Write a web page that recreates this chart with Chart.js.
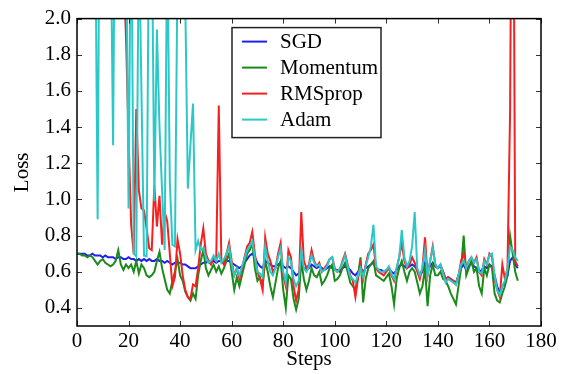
<!DOCTYPE html>
<html>
<head>
<meta charset="utf-8">
<title>Loss vs Steps</title>
<script src="https://cdn.jsdelivr.net/npm/chart.js@4.4.1/dist/chart.umd.min.js"></script>
<style>
    html, body { margin: 0; padding: 0; background: #fff; }
    #wrap { width: 566px; height: 374px; }
</style>
</head>
<body>
<div id="wrap"><canvas id="lossChart" width="566" height="374"></canvas></div>
<script>
// Loss curves, one value per step (0..171)
const sgd = [
    0.70,0.70,0.70,0.70,0.69,0.69,0.70,0.69,0.69,0.69,
    0.68,0.69,0.68,0.68,0.68,0.67,0.68,0.68,0.67,0.67,
    0.68,0.67,0.67,0.66,0.67,0.66,0.67,0.66,0.67,0.66,
    0.66,0.67,0.66,0.66,0.65,0.66,0.65,0.64,0.65,0.65,
    0.65,0.64,0.64,0.63,0.62,0.62,0.62,
    0.63,0.64,0.65,0.65,0.66,0.65,0.66,0.65,0.66,0.66,
    0.65,0.66,0.66,0.65,0.64,0.63,0.62,0.63,0.65,0.67,
    0.69,0.70,0.68,0.65,0.63,0.62,0.66,0.65,0.64,0.63,
    0.63,0.64,0.65,0.63,0.62,0.63,0.62,0.60,0.58,0.59,
    0.63,0.62,0.61,0.62,0.64,0.63,0.62,0.63,0.62,0.61,
    0.62,0.63,0.62,0.61,0.61,0.60,0.62,0.63,0.62,0.61,
    0.59,0.58,0.60,0.62,0.60,0.62,0.63,0.64,0.65,0.62,
    0.61,0.61,0.60,0.61,0.62,0.60,0.59,0.61,0.63,0.64,
    0.63,0.62,0.63,0.64,0.63,0.61,0.58,0.60,0.65,0.61,
    0.63,0.65,0.63,0.62,0.63,0.60,0.56,0.57,0.56,0.55,
    0.54,0.58,0.62,0.64,0.61,0.63,0.65,0.63,0.62,0.60,
    0.61,0.63,0.62,0.64,0.63,0.58,0.52,0.48,0.52,0.54,
    0.58,0.66,0.68,0.64,0.62
];
const momentum = [
    0.70,0.70,0.69,0.69,0.68,0.69,0.68,0.66,0.64,0.66,
    0.67,0.65,0.64,0.63,0.64,0.66,0.72,0.64,0.61,0.64,
    0.62,0.64,0.60,0.66,0.59,0.64,0.62,0.58,0.57,0.58,
    0.60,0.66,0.71,0.62,0.56,0.50,0.48,0.55,0.60,0.67,
    0.58,0.55,0.49,0.46,0.44,0.48,0.45,
    0.58,0.66,0.72,0.62,0.58,0.61,0.64,0.60,0.63,0.59,
    0.62,0.66,0.70,0.60,0.50,0.57,0.52,0.58,0.64,0.70,
    0.72,0.76,0.62,0.55,0.57,0.52,0.66,0.60,0.52,0.46,
    0.54,0.62,0.66,0.50,0.40,0.58,0.56,0.45,0.39,0.45,
    0.66,0.56,0.50,0.55,0.62,0.58,0.57,0.60,0.53,0.55,
    0.58,0.62,0.64,0.55,0.56,0.58,0.62,0.65,0.60,0.54,
    0.52,0.50,0.58,0.68,0.43,0.56,0.62,0.64,0.66,0.58,
    0.57,0.56,0.55,0.57,0.59,0.52,0.42,0.56,0.62,0.66,
    0.60,0.55,0.60,0.62,0.60,0.54,0.48,0.52,0.62,0.41,
    0.58,0.64,0.58,0.58,0.60,0.56,0.55,0.52,0.48,0.45,
    0.42,0.52,0.62,0.80,0.58,0.62,0.66,0.60,0.62,0.52,
    0.48,0.62,0.58,0.64,0.62,0.48,0.44,0.43,0.48,0.52,
    0.58,0.80,0.70,0.60,0.55
];
const rmsprop = [
    3.6,3.2,3.9,3.4,3.0,3.5,3.1,2.8,3.3,2.9,
    3.2,2.7,3.0,2.6,2.9,2.5,2.8,2.4,2.3,
    1.90,1.35,0.86,0.70,1.50,1.05,0.95,0.94,0.84,0.73,
    0.72,1.08,0.85,1.02,0.75,0.93,0.88,0.70,0.52,0.57,
    0.78,0.70,0.58,0.50,0.46,0.45,0.53,0.52,
    0.62,0.75,0.84,0.70,0.66,0.64,0.68,0.66,1.52,0.66,
    0.64,0.70,0.76,0.66,0.58,0.62,0.56,0.62,0.68,0.74,
    0.76,0.82,0.70,0.60,0.56,0.50,0.79,0.70,0.66,0.60,
    0.62,0.70,0.76,0.58,0.52,0.72,0.68,0.52,0.44,0.50,
    0.93,0.66,0.62,0.64,0.72,0.66,0.63,0.65,0.60,0.62,
    0.64,0.67,0.68,0.62,0.60,0.61,0.66,0.70,0.64,0.58,
    0.55,0.46,0.56,0.64,0.56,0.64,0.70,0.72,0.75,0.62,
    0.60,0.59,0.58,0.60,0.62,0.58,0.55,0.62,0.68,0.76,
    0.66,0.62,0.64,0.68,0.65,0.60,0.56,0.62,0.79,0.58,
    0.66,0.74,0.64,0.62,0.64,0.60,0.56,0.57,0.56,0.55,
    0.53,0.58,0.66,0.70,0.62,0.66,0.68,0.65,0.68,0.60,
    0.58,0.67,0.64,0.70,0.68,0.56,0.50,0.46,0.64,0.56,
    0.62,1.48,3.80,0.66,0.63
];
const adam = [
    3.5,4.1,3.2,3.8,2.9,3.6,3.1,2.7,0.89,3.4,
    2.9,3.7,3.0,2.6,1.30,3.3,2.8,3.5,2.9,2.6,
    0.95,2.8,0.70,0.685,2.5,1.6,0.69,0.685,2.7,2.6,
    0.99,1.94,1.40,1.05,0.72,2.5,1.10,0.75,0.74,2.3,
    2.6,2.2,2.1,1.06,1.30,1.53,0.72,
    0.77,0.72,0.73,0.68,0.65,0.66,0.69,0.66,0.70,0.65,
    0.67,0.70,0.74,0.64,0.58,0.62,0.58,0.63,0.67,0.72,
    0.74,0.77,0.68,0.60,0.59,0.57,0.74,0.66,0.60,0.58,
    0.62,0.68,0.73,0.60,0.54,0.68,0.66,0.56,0.52,0.55,
    0.72,0.62,0.60,0.63,0.69,0.65,0.63,0.64,0.60,0.61,
    0.63,0.67,0.68,0.61,0.60,0.62,0.65,0.69,0.63,0.57,
    0.56,0.54,0.58,0.62,0.57,0.63,0.68,0.74,0.86,0.63,
    0.61,0.60,0.60,0.61,0.63,0.59,0.56,0.62,0.68,0.83,
    0.68,0.63,0.66,0.74,0.93,0.62,0.58,0.62,0.72,0.58,
    0.66,0.73,0.64,0.62,0.64,0.59,0.54,0.56,0.55,0.54,
    0.53,0.58,0.64,0.66,0.62,0.66,0.68,0.65,0.67,0.60,
    0.59,0.66,0.64,0.69,0.70,0.58,0.50,0.47,0.52,0.55,
    0.62,0.74,0.72,0.68,0.66
];

const steps = Array.from({ length: sgd.length }, (_, i) => i);
const xTicks = [0, 20, 40, 60, 80, 100, 120, 140, 160, 180];
const yTicks = [0.4, 0.6, 0.8, 1.0, 1.2, 1.4, 1.6, 1.8, 2.0];

const FONT = "'Liberation Serif', 'DejaVu Serif', serif";

const series = [
    { label: 'SGD', data: sgd, color: '#1f1ff5' },
    { label: 'Momentum', data: momentum, color: '#1a8a1a' },
    { label: 'RMSprop', data: rmsprop, color: '#f52020' },
    { label: 'Adam', data: adam, color: '#2cc8c8' }
];

// frame, inward ticks on all four sides and the boxed legend (matplotlib look)
const framePlugin = {
    id: 'frame',
    afterDraw(chart) {
        const { ctx, chartArea: a, scales } = chart;
        ctx.save();
        ctx.strokeStyle = '#333';
        ctx.lineWidth = 1;
        ctx.beginPath();
        xTicks.forEach(v => {
            const x = Math.round(scales.x.getPixelForValue(v)) + 0.5;
            ctx.moveTo(x, a.bottom); ctx.lineTo(x, a.bottom - 5);
            ctx.moveTo(x, a.top); ctx.lineTo(x, a.top + 5);
        });
        yTicks.forEach(v => {
            const y = Math.round(scales.y.getPixelForValue(v)) + 0.5;
            ctx.moveTo(a.left, y); ctx.lineTo(a.left + 5, y);
            ctx.moveTo(a.right, y); ctx.lineTo(a.right - 5, y);
        });
        ctx.stroke();

        ctx.strokeStyle = '#000';
        ctx.lineWidth = 1.5;
        ctx.strokeRect(a.left, a.top, a.right - a.left, a.bottom - a.top);

        // legend
        const bx = a.left + 155, by = a.top + 9, bw = 149, bh = 110;
        ctx.fillStyle = '#fff';
        ctx.fillRect(bx, by, bw, bh);
        ctx.strokeStyle = '#222';
        ctx.lineWidth = 1.5;
        ctx.strokeRect(bx, by, bw, bh);
        ctx.font = '21px ' + FONT;
        ctx.textBaseline = 'middle';
        series.forEach((s, i) => {
            const y = by + 14 + i * 26;
            ctx.strokeStyle = s.color;
            ctx.lineWidth = 2;
            ctx.beginPath();
            ctx.moveTo(bx + 10, y);
            ctx.lineTo(bx + 35, y);
            ctx.stroke();
            ctx.fillStyle = '#000';
            ctx.fillText(s.label, bx + 48, y + 1);
        });
        ctx.restore();
    }
};

new Chart(document.getElementById('lossChart'), {
    type: 'line',
    data: {
        labels: steps,
        datasets: series.map((s, i) => ({
            label: s.label,
            data: s.data,
            borderColor: s.color,
            backgroundColor: s.color,
            borderWidth: 2,
            pointRadius: 0,
            tension: 0,
            fill: false,
            order: series.length - i
        }))
    },
    options: {
        responsive: false,
        animation: false,
        layout: { padding: { top: 15, right: 25, bottom: 0, left: 0 } },
        plugins: {
            legend: { display: false },
            tooltip: { enabled: false }
        },
        scales: {
            x: {
                type: 'linear',
                min: 0,
                max: 180,
                grid: { display: false, drawTicks: false },
                border: { display: false },
                afterBuildTicks: scale => { scale.ticks = xTicks.map(v => ({ value: v })); },
                afterFit: scale => { scale.height = 48; },
                ticks: {
                    autoSkip: false,
                    maxRotation: 0,
                    padding: 3,
                    color: '#000',
                    font: { family: FONT, size: 21 }
                },
                title: {
                    display: true,
                    text: 'Steps',
                    color: '#000',
                    padding: { top: 0, bottom: 2 },
                    font: { family: FONT, size: 21 }
                }
            },
            y: {
                type: 'linear',
                min: 0.3,
                max: 2.0,
                grid: { display: false, drawTicks: false },
                border: { display: false },
                afterBuildTicks: scale => { scale.ticks = yTicks.map(v => ({ value: v })); },
                afterFit: scale => { scale.width = 77; },
                ticks: {
                    padding: 6,
                    color: '#000',
                    font: { family: FONT, size: 21 },
                    callback: v => v.toFixed(1)
                },
                title: {
                    display: true,
                    text: 'Loss',
                    color: '#000',
                    padding: { top: 10, bottom: 0 },
                    font: { family: FONT, size: 21 }
                }
            }
        }
    },
    plugins: [framePlugin]
});
</script>
</body>
</html>
